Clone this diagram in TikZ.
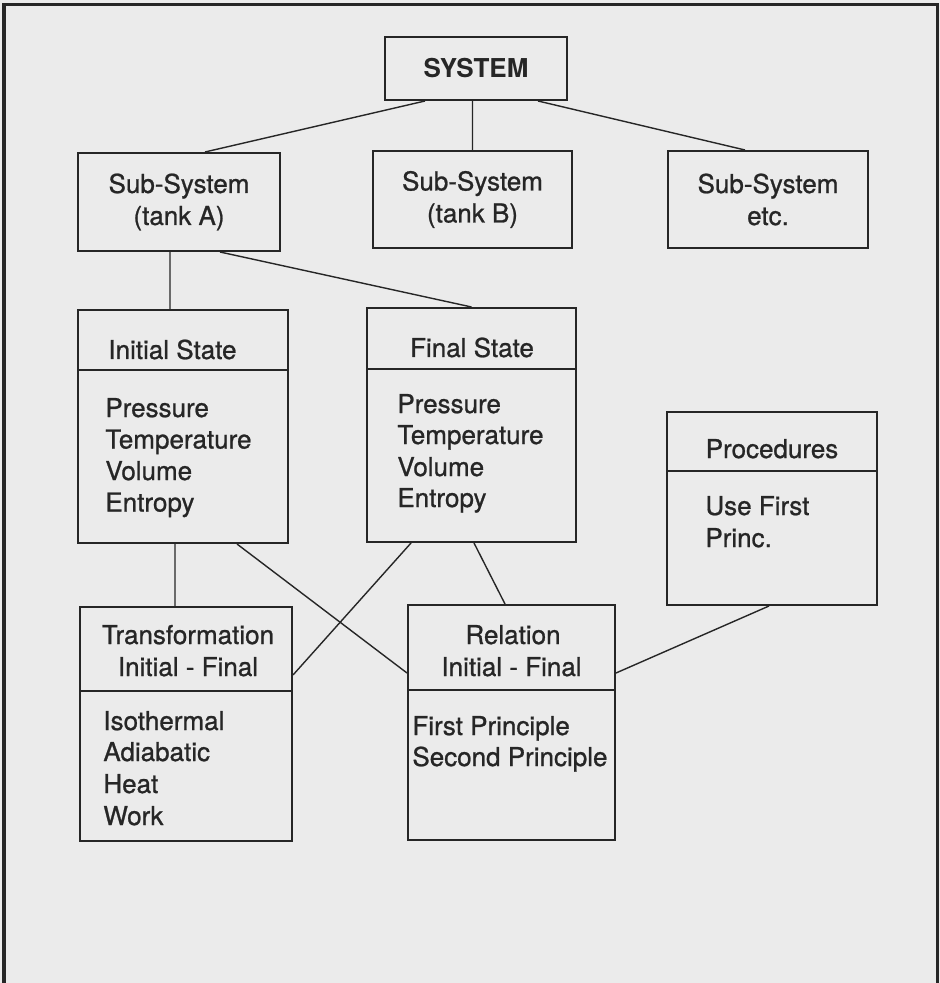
\documentclass[tikz,border=0pt]{standalone}
\usepackage{fontspec}
\setmainfont{TeX Gyre Heros}
\newfontfamily\scanfont[FakeBold=0.9]{TeX Gyre Heros}
\usetikzlibrary{positioning}

\definecolor{ink}{gray}{0.15}
\definecolor{paper}{gray}{0.92}

\begin{document}
\begin{tikzpicture}[x=5pt,y=5pt]
\tikzstyle{every node}+=[inner sep=0pt,text=ink,font=\scanfont\fontsize{13}{16}\selectfont]
\tikzstyle{box}=[draw=ink,line width=1pt,rectangle,align=center]
\tikzstyle{wire}=[draw=ink,line width=0.7pt]
\tikzstyle{rule}=[draw=ink,line width=1pt]
\fill [paper] (0,0) rectangle (94,-98.3);
\useasboundingbox (0,0) rectangle (94,-98.3);
\draw [ink,line width=1.5pt] (0.4,-98.3) -- (0.4,-0.5) -- (93.7,-0.5) -- (93.7,-98.3);
% top level
\node [box,minimum width=91pt,minimum height=31.5pt] (sys) at (47.6,-6.85) {\rmfamily\bfseries SYSTEM};
\node [box,minimum width=101pt,minimum height=49pt] (tankA) at (17.9,-20.2) {Sub-System\\(tank A)};
\node [box,minimum width=99.5pt,minimum height=48.5pt] (tankB) at (47.25,-19.95) {Sub-System\\(tank B)};
\node [box,minimum width=100pt,minimum height=48.5pt] (tankC) at (76.8,-19.95) {Sub-System\\etc.};
% states
\node [box,minimum width=105pt,minimum height=116.5pt] (init) at (18.3,-42.65) {};
\draw [rule] ([yshift=-30.5pt]init.north west) -- ([yshift=-30.5pt]init.north east);
\node [anchor=base west] (initHead) at (10.8,-35.9) {Initial State};
\node [anchor=base west] (initP) at (10.5,-41.7) {Pressure};
\node [anchor=base west] (initT) at (10.5,-44.85) {Temperature};
\node [anchor=base west] (initV) at (10.5,-48.0) {Volume};
\node [anchor=base west] (initS) at (10.5,-51.15) {Entropy};
\node [box,minimum width=104.5pt,minimum height=117pt] (final) at (47.15,-42.5) {};
\draw [rule] ([yshift=-31pt]final.north west) -- ([yshift=-31pt]final.north east);
\node [anchor=base] (finalHead) at (47.2,-35.7) {Final State};
\node [anchor=base west] (finalP) at (39.7,-41.3) {Pressure};
\node [anchor=base west] (finalT) at (39.7,-44.4) {Temperature};
\node [anchor=base west] (finalV) at (39.7,-47.6) {Volume};
\node [anchor=base west] (finalS) at (39.7,-50.7) {Entropy};
\node [box,minimum width=105pt,minimum height=96.5pt] (proc) at (77.2,-50.85) {};
\draw [rule] ([yshift=-30pt]proc.north west) -- ([yshift=-30pt]proc.north east);
\node [anchor=base] (procHead) at (77.2,-45.8) {Procedures};
\node [anchor=base west] (procA) at (70.5,-51.5) {Use First};
\node [anchor=base west] (procB) at (70.5,-54.7) {Princ.};
% transformation and relation
\node [box,minimum width=106pt,minimum height=117pt] (trans) at (18.6,-72.4) {};
\draw [rule] ([yshift=-42.5pt]trans.north west) -- ([yshift=-42.5pt]trans.north east);
\node [anchor=base] (transHead) at (18.8,-64.4) {Transformation};
\node [anchor=base] (transSub) at (18.8,-67.6) {Initial - Final};
\node [anchor=base west] (transI) at (10.3,-73.0) {Isothermal};
\node [anchor=base west] (transA) at (10.3,-76.1) {Adiabatic};
\node [anchor=base west] (transH) at (10.3,-79.3) {Heat};
\node [anchor=base west] (transW) at (10.3,-82.5) {Work};
\node [box,minimum width=103.5pt,minimum height=117.5pt] (rel) at (51.15,-72.25) {};
\draw [rule] ([yshift=-43pt]rel.north west) -- ([yshift=-43pt]rel.north east);
\node [anchor=base] (relHead) at (51.3,-64.4) {Relation};
\node [anchor=base] (relSub) at (51.15,-67.6) {Initial - Final};
\node [anchor=base west] (relF) at (41.2,-73.5) {First Principle};
\node [anchor=base west] (relS) at (41.2,-76.6) {Second Principle};
% links
\draw [wire] ([xshift=-25.5pt]sys.south) -- ([xshift=13pt]tankA.north);
\draw [wire] ([xshift=-1.75pt]sys.south) -- (tankB.north);
\draw [wire] ([xshift=31pt]sys.south) -- ([xshift=-11.5pt]tankC.north);
\draw [wire] ([xshift=-4.5pt]tankA.south) -- ([xshift=-6.5pt]init.north);
\draw [wire] ([xshift=20.5pt]tankA.south) -- (final.north);
\draw [wire] ([xshift=-4pt]init.south) -- ([xshift=-5.5pt]trans.north);
\draw [wire] ([xshift=27pt]init.south) -- ([yshift=24.75pt]rel.west);
\draw [wire] ([xshift=-30.25pt]final.south) -- ([yshift=24.5pt]trans.east);
\draw [wire] ([xshift=1.25pt]final.south) -- ([xshift=-3.25pt]rel.north);
\draw [wire] ([xshift=-1.5pt]proc.south) -- ([yshift=24.75pt]rel.east);
\end{tikzpicture}
\end{document}
